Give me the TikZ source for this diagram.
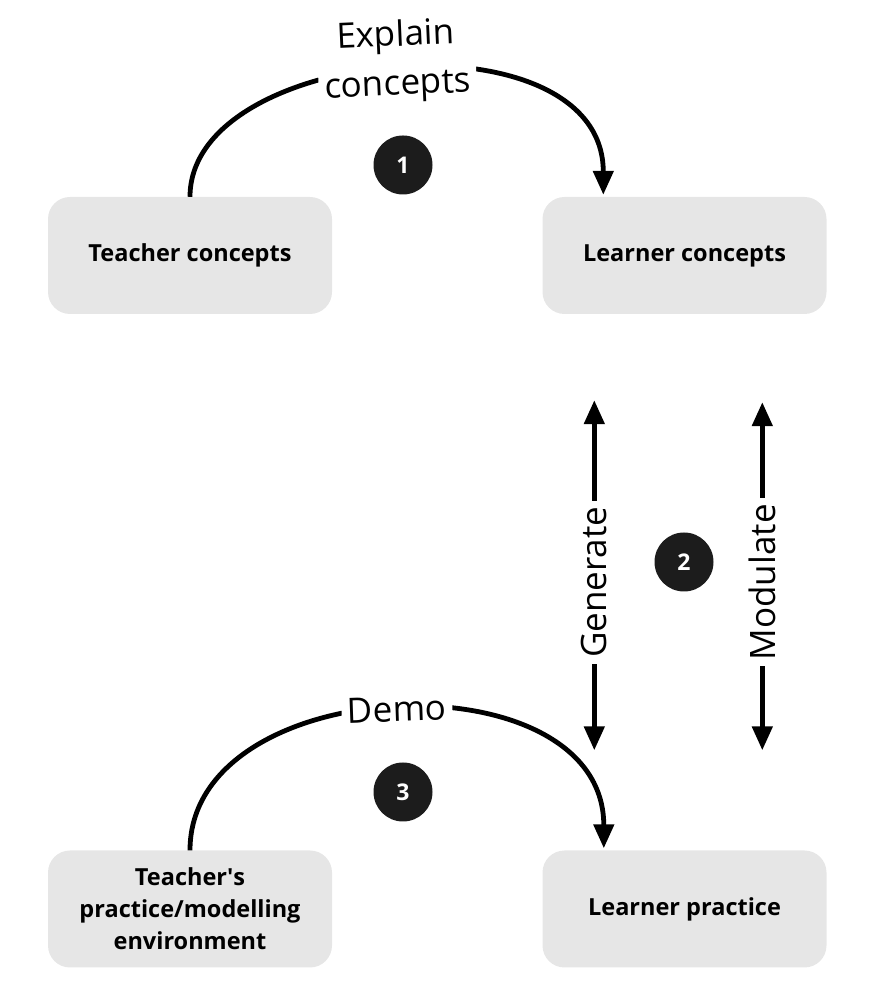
\documentclass[tikz,border=0pt]{standalone}
\usepackage{fontspec}
\setmainfont{Open Sans}
\usetikzlibrary{arrows.meta,calc}
\definecolor{boxgray}{HTML}{E6E6E6}
\definecolor{badgeblack}{HTML}{1C1C1C}
\begin{document}
\begin{tikzpicture}[x=1pt,y=1pt,
  stage/.style={fill=boxgray,rounded corners=22pt,minimum width=284pt,minimum height=117pt,align=center,font=\fontsize{23.5}{32}\selectfont\bfseries},
  badge/.style={circle,fill=badgeblack,minimum size=59pt,inner sep=0pt,text=white,font=\fontsize{23}{26}\selectfont\bfseries},
  flow/.style={line width=4.8pt,-{Triangle[length=24pt,width=20pt]}},
  twoway/.style={line width=4.8pt,{Triangle[length=24pt,width=20pt]}-{Triangle[length=24pt,width=20pt]}},
  verb/.style={fill=white,align=center,inner sep=6pt,font=\fontsize{35}{49}\selectfont}]
\useasboundingbox (0,0) rectangle (869,1000);

\node [stage] (tc) at (190,744.5) {Teacher concepts};
\node [stage] (lc) at (684.5,744.5) {Learner concepts};
\node [stage] (tp) at (190,91) {Teacher\textquotesingle s\\practice/modelling\\environment};
\node [stage] (lp) at (684.5,91) {Learner practice};

\node [badge] (b1) at (403,835) {1};
\node [badge] (b2) at (684,438) {2};
\node [badge] (b3) at (403,208) {3};

\coordinate (lcin) at ($(lc.north west)+(61,2)$);
\coordinate (lpin) at ($(lp.north west)+(61.5,2)$);

\draw [flow] (tc.north) .. controls ($(tc.north)+(0,152)$) and ($(lcin)+(0,185)$) .. (lcin)
  node [verb,pos=0.5,yshift=8pt,rotate=2.5] (explain) {Explain\\concepts};
\draw [flow] (tp.north) .. controls ($(tp.north)+(0,180)$) and ($(lpin)+(0,194)$) .. (lpin)
  node [verb,pos=0.5,rotate=2] (demo) {Demo};

\draw [twoway,shorten <=86pt,shorten >=100pt] ($(lc.south west)+(52,0)$) -- ($(lp.north west)+(52,0)$)
  node [verb,midway,rotate=90] (gen) {Generate};
\draw [twoway,shorten <=88pt,shorten >=100pt] ($(lc.south west)+(220,0)$) -- ($(lp.north west)+(220,0)$)
  node [verb,midway,rotate=90] (mod) {Modulate};
\end{tikzpicture}
\end{document}
